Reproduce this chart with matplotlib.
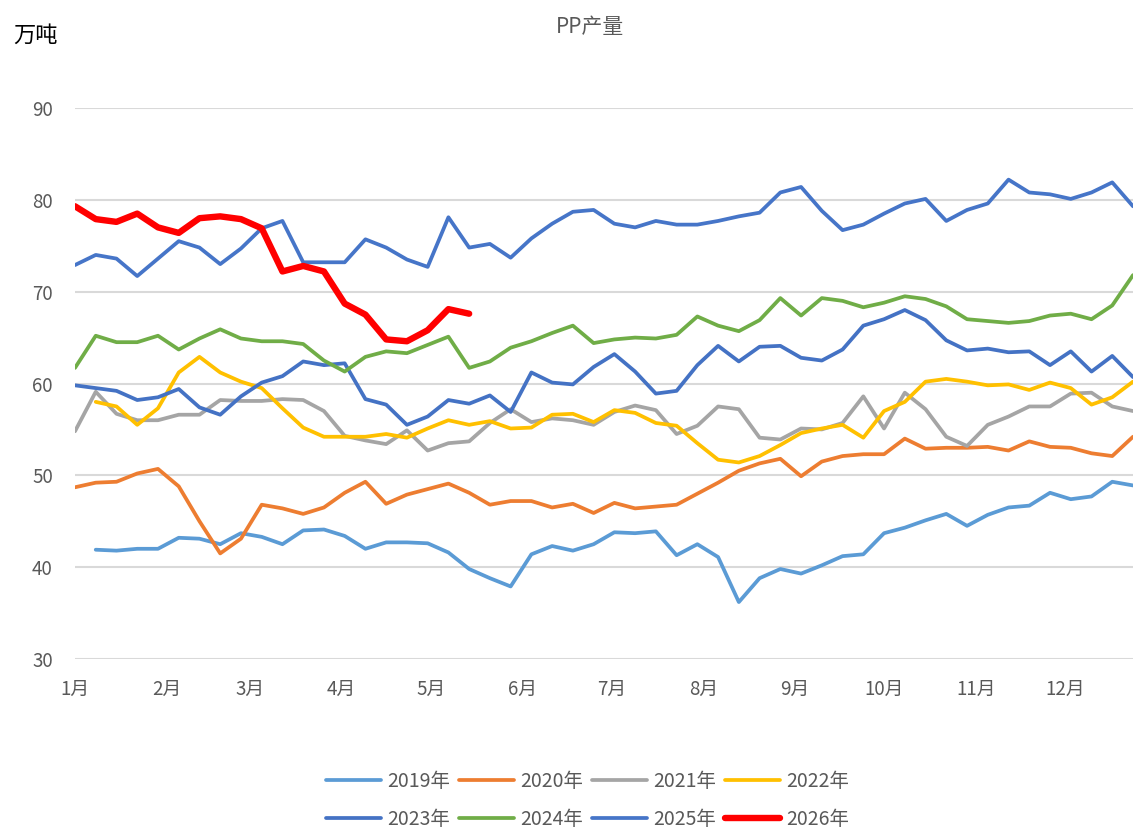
import numpy as np
import matplotlib
matplotlib.use("Agg")
import matplotlib.pyplot as plt

plt.rcParams['font.family'] = ['Noto Sans CJK SC', 'DejaVu Sans']

# weekly PP output (万吨), 52 weeks per year; None = no data
y2019 = [None, 41.9, 41.8, 42.0, 42.0, 43.2, 43.1, 42.5, 43.7, 43.3, 42.5, 44.0, 44.1, 43.4,
         42.0, 42.7, 42.7, 42.6, 41.6, 39.8, 38.8, 37.9, 41.4, 42.3, 41.8, 42.5, 43.8, 43.7,
         43.9, 41.3, 42.5, 41.1, 36.2, 38.8, 39.8, 39.3, 40.2, 41.2, 41.4, 43.7, 44.3, 45.1,
         45.8, 44.5, 45.7, 46.5, 46.7, 48.1, 47.4, 47.7, 49.3, 48.9]
y2020 = [48.7, 49.2, 49.3, 50.2, 50.7, 48.8, 45.0, 41.5, 43.1, 46.8, 46.4, 45.8, 46.5, 48.1,
         49.3, 46.9, 47.9, 48.5, 49.1, 48.1, 46.8, 47.2, 47.2, 46.5, 46.9, 45.9, 47.0, 46.4,
         46.6, 46.8, 48.0, 49.2, 50.5, 51.3, 51.8, 49.9, 51.5, 52.1, 52.3, 52.3, 54.0, 52.9,
         53.0, 53.0, 53.1, 52.7, 53.7, 53.1, 53.0, 52.4, 52.1, 54.2]
y2021 = [54.8, 59.1, 56.7, 56.0, 56.0, 56.6, 56.6, 58.2, 58.1, 58.1, 58.3, 58.2, 57.0, 54.3,
         53.8, 53.4, 54.9, 52.7, 53.5, 53.7, 55.7, 57.2, 55.8, 56.2, 56.0, 55.5, 56.9, 57.6,
         57.1, 54.5, 55.4, 57.5, 57.2, 54.1, 53.9, 55.1, 55.0, 55.7, 58.6, 55.1, 59.0, 57.2,
         54.2, 53.2, 55.5, 56.4, 57.5, 57.5, 58.9, 59.0, 57.5, 57.0]
y2022 = [None, 58.0, 57.5, 55.5, 57.3, 61.2, 62.9, 61.2, 60.2, 59.5, 57.3, 55.2, 54.2, 54.2,
         54.2, 54.5, 54.1, 55.1, 56.0, 55.5, 55.9, 55.1, 55.2, 56.6, 56.7, 55.8, 57.1, 56.8,
         55.7, 55.4, 53.5, 51.7, 51.4, 52.1, 53.3, 54.6, 55.1, 55.5, 54.1, 57.0, 58.0, 60.2,
         60.5, 60.2, 59.8, 59.9, 59.3, 60.1, 59.5, 57.7, 58.5, 60.2]
y2023 = [59.8, 59.5, 59.2, 58.2, 58.5, 59.4, 57.4, 56.6, 58.6, 60.1, 60.8, 62.4, 62.0, 62.2,
         58.3, 57.7, 55.5, 56.4, 58.2, 57.8, 58.7, 56.9, 61.2, 60.1, 59.9, 61.8, 63.2, 61.3,
         58.9, 59.2, 62.0, 64.1, 62.4, 64.0, 64.1, 62.8, 62.5, 63.7, 66.3, 67.0, 68.0, 66.9,
         64.7, 63.6, 63.8, 63.4, 63.5, 62.0, 63.5, 61.3, 63.0, 60.7]
y2024 = [61.7, 65.2, 64.5, 64.5, 65.2, 63.7, 64.9, 65.9, 64.9, 64.6, 64.6, 64.3, 62.5, 61.3,
         62.9, 63.5, 63.3, 64.2, 65.1, 61.7, 62.4, 63.9, 64.6, 65.5, 66.3, 64.4, 64.8, 65.0,
         64.9, 65.3, 67.3, 66.3, 65.7, 66.9, 69.3, 67.4, 69.3, 69.0, 68.3, 68.8, 69.5, 69.2,
         68.4, 67.0, 66.8, 66.6, 66.8, 67.4, 67.6, 67.0, 68.5, 71.8]
y2025 = [72.9, 74.0, 73.6, 71.7, 73.6, 75.5, 74.8, 73.0, 74.7, 76.9, 77.7, 73.2, 73.2, 73.2,
         75.7, 74.8, 73.5, 72.7, 78.1, 74.8, 75.2, 73.7, 75.8, 77.4, 78.7, 78.9, 77.4, 77.0,
         77.7, 77.3, 77.3, 77.7, 78.2, 78.6, 80.8, 81.4, 78.8, 76.7, 77.3, 78.5, 79.6, 80.1,
         77.7, 78.9, 79.6, 82.2, 80.8, 80.6, 80.1, 80.8, 81.9, 79.3]
y2026 = [79.3, 77.9, 77.6, 78.5, 77.0, 76.4, 78.0, 78.2, 77.9, 76.9, 72.2, 72.8, 72.2, 68.7,
         67.5, 64.8, 64.6, 65.8, 68.1, 67.6]

years = ['2019年', '2020年', '2021年', '2022年', '2023年', '2024年', '2025年', '2026年']
series = [y2019, y2020, y2021, y2022, y2023, y2024, y2025, y2026]
colors = ['#5B9BD5', '#ED7D31', '#A5A5A5', '#FFC000', '#4472C4', '#70AD47', '#4675C8', '#FF0000']
widths = [2.7, 2.7, 2.7, 2.7, 2.7, 2.7, 2.7, 4.6]

month_labels = ['1月', '2月', '3月', '4月', '5月', '6月', '7月', '8月', '9月', '10月', '11月', '12月']
month_days = [0, 31, 59, 90, 120, 151, 181, 212, 243, 273, 304, 334]

fig = plt.figure(figsize=(11.35, 8.32), dpi=100)
ax = fig.add_axes([75 / 1135, 173 / 832, 1058 / 1135, 551 / 832])

lines = []
for vals, name, c, lw in zip(series, years, colors, widths):
    days = np.arange(len(vals)) * 7
    v = np.array([np.nan if a is None else a for a in vals], dtype=float)
    ln, = ax.plot(days, v, color=c, lw=lw, label=name,
                  solid_joinstyle='round', solid_capstyle='round')
    lines.append(ln)

ax.set_xlim(0, 357)
ax.set_ylim(30, 90)
ax.set_yticks(np.arange(30, 91, 10))
ax.set_xticks(month_days)
ax.set_xticklabels(month_labels)
ax.grid(axis='y', color='#D9D9D9', lw=1.5)
ax.set_axisbelow(True)
for s in ax.spines.values():
    s.set_visible(False)
ax.tick_params(axis='both', length=0, colors='#595959', labelsize=13.5)
ax.tick_params(axis='y', pad=16)
ax.tick_params(axis='x', pad=14)

fig.text(0.52, 0.968, 'PP产量', ha='center', va='center', fontsize=15, color='#595959')
fig.text(0.012, 0.958, '万吨', ha='left', va='center', fontsize=16, color='black')

# legend fills column-wise, so interleave to get the two rows right
order = [0, 4, 1, 5, 2, 6, 3, 7]
fig.legend([lines[i] for i in order], [years[i] for i in order],
           loc='center', bbox_to_anchor=(0.518, 0.038), ncol=4, frameon=False,
           fontsize=14, handlelength=2.8, handletextpad=0.35, columnspacing=0.45,
           labelspacing=0.85, labelcolor='#595959')

fig.savefig('out.png', dpi=100)
